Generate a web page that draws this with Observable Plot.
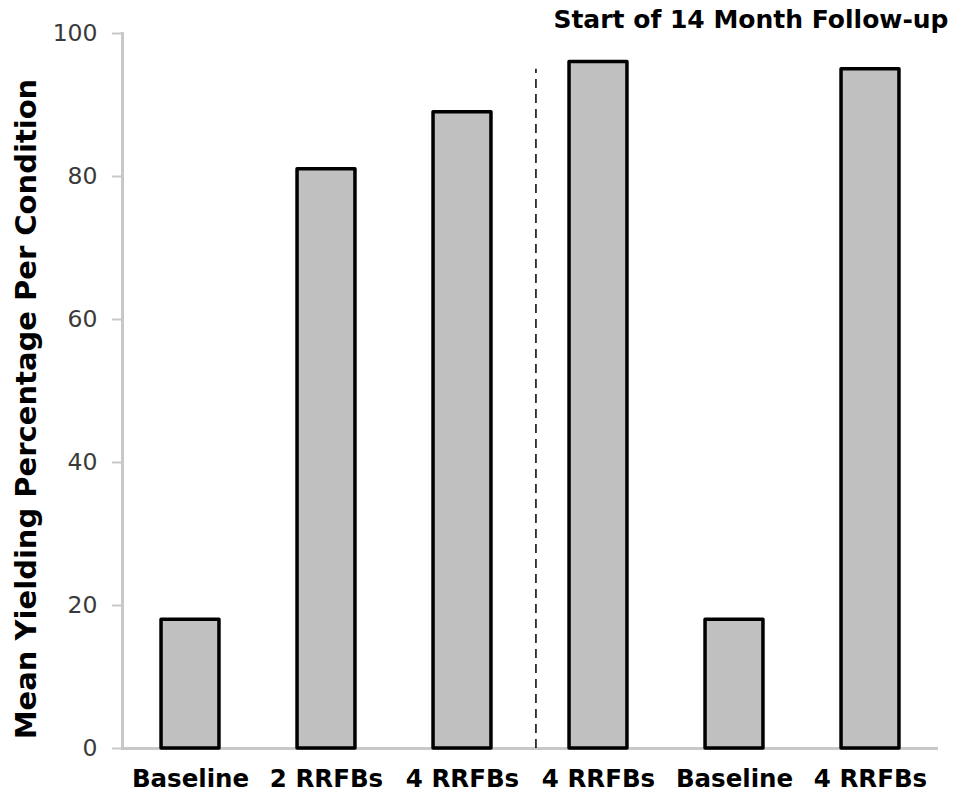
<!DOCTYPE html>
<html>
<head>
<meta charset="utf-8">
<script src="https://cdn.jsdelivr.net/npm/d3@7"></script>
<script src="https://cdn.jsdelivr.net/npm/@observablehq/plot@0.6"></script>
<style>
  html, body { margin: 0; padding: 0; background: #fff; }
</style>
</head>
<body>
<div id="chart"></div>
<script>
const labels = ["Baseline", "2 RRFBs", "4 RRFBs", "4 RRFBs", "Baseline", "4 RRFBs"];
const values = [18, 81, 89, 96, 18, 95];
const yTicks = [0, 20, 40, 60, 80, 100];
const followUpStart = 2.54;   // position of the dashed divider (between bars 3 and 4)
const followUpTop = 95;
const annotation = "Start of 14 Month Follow-up";
const yLabel = "Mean Yielding Percentage Per Condition";

const data = labels.map((label, i) => ({i, label, value: values[i]}));
const halfBar = 0.213;

const chart = Plot.plot({
  width: 956,
  height: 794,
  marginLeft: 122,
  marginRight: 18,
  marginTop: 33,
  marginBottom: 46,
  style: {fontFamily: "DejaVu Sans", background: "#fff"},
  x: {domain: [-0.5, 5.5], axis: null},
  y: {domain: [0, 100], axis: null},
  marks: [
    Plot.ruleY([0], {stroke: "#c8c8c8", strokeWidth: 3}),
    Plot.frame({anchor: "left", stroke: "#c8c8c8", strokeWidth: 3}),
    Plot.axisY({
      ticks: yTicks, tickSize: 10, tickPadding: 15, stroke: "#c8c8c8", strokeWidth: 2,
      fontSize: 23.5, fill: "#3a3a3a", label: null
    }),
    Plot.axisX({
      ticks: data.map(d => d.i), tickFormat: i => labels[i], tickSize: 0, tickPadding: 21,
      fontSize: 24.5, fontWeight: "bold", fill: "#000", label: null
    }),
    Plot.rectY(data, {
      x1: d => d.i - halfBar, x2: d => d.i + halfBar, y1: 0, y2: "value",
      fill: "#c0c0c0", stroke: "#000", strokeWidth: 3.5, strokeLinejoin: "round"
    }),
    Plot.ruleX([followUpStart], {y1: 0, y2: followUpTop, stroke: "#000", strokeWidth: 1.5, strokeDasharray: "9,6"}),
    Plot.text([annotation], {
      frameAnchor: "top-right", dx: 10, dy: -23, fontSize: 25, fontWeight: "bold",
      fill: "#000", textAnchor: "end", lineAnchor: "top"
    }),
    Plot.text([yLabel], {
      frameAnchor: "left", rotate: -90, dx: -96, dy: 18, fontSize: 29,
      fontWeight: "bold", fill: "#000", textAnchor: "middle", lineAnchor: "middle"
    })
  ]
});
document.getElementById("chart").append(chart);
</script>
</body>
</html>
